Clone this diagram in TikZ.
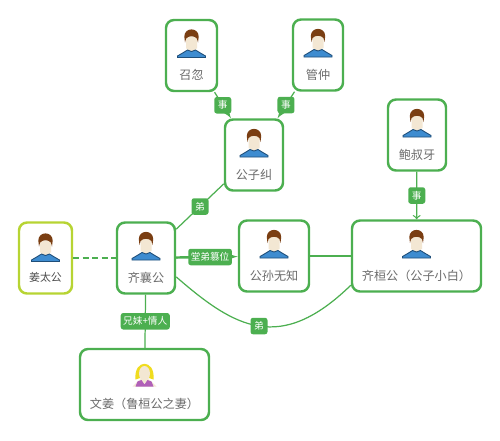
\documentclass[tikz,border=0pt]{standalone}
\usepackage{fontspec}
\newfontfamily\cjk{Noto Sans CJK SC}
\definecolor{mapGreen}{HTML}{4CAF50}
\definecolor{mapLime}{HTML}{B7D433}
\definecolor{nameGray}{HTML}{6B6B6B}
\definecolor{shirtBlue}{HTML}{3E8CD0}
\definecolor{shirtEdge}{HTML}{1F4E79}
\definecolor{hairBrown}{HTML}{7A3E12}
\definecolor{skinTone}{HTML}{F3E7D3}
\definecolor{hairYellow}{HTML}{F0DC1E}
\definecolor{dressPurple}{HTML}{B060B8}
\tikzset{
    manIcon/.pic={
        \fill[skinTone, x=.2mm, y=.2mm] (-5.5,19) rectangle (5.5,7) (0,6) ellipse (4.5 and 4);
        \fill[hairBrown, x=.2mm, y=.2mm] (-6.5,13) -- (-7.2,19) .. controls (-7,28.5) and (7,28.5) .. (7.2,19) -- (6.5,13) -- (5.4,17) .. controls (3,20) and (-3,20) .. (-5.4,17) -- cycle;
        \filldraw[fill=shirtBlue, draw=shirtEdge, line width=.5pt, x=.2mm, y=.2mm] (-14,-2) -- (-14,-.5) -- (-8,3) -- (-4,5.5) -- (0,4) -- (4,5.5) -- (8,3) -- (14,-.5) -- (14,-2) -- cycle;
    },
    womanIcon/.pic={
        \fill[hairYellow, x=.2mm, y=.2mm] (-9,5) .. controls (-11,26) and (11,26) .. (9,5) -- (3,7) -- (-3,7) -- cycle;
        \fill[skinTone, x=.2mm, y=.2mm] (0,11) ellipse (5.5 and 7.5);
        \fill[skinTone, x=.2mm, y=.2mm] (-12,-2) -- (-7,3) -- (-3,6) -- (3,6) -- (7,3) -- (12,-2) -- cycle;
        \fill[dressPurple, x=.2mm, y=.2mm] (-9,-2) -- (-7,3) -- (-3,4.5) -- (0,0) -- (3,4.5) -- (7,3) -- (9,-2) -- cycle;
    }
}
\begin{document}
\begin{tikzpicture}[
        personNode/.style={rectangle, draw=mapGreen, line width=1.4pt, rounded corners=1.6mm, fill=white, inner sep=0pt, minimum height=14.2mm},
        nameLabel/.style={text=nameGray, font=\cjk\fontsize{6.9}{8}\selectfont, yshift=-3.9mm},
        linkLabel/.style={rectangle, fill=mapGreen, rounded corners=.5mm, text=white, font=\cjk\fontsize{5.5}{6}\selectfont, inner xsep=.5mm, inner ysep=0pt, minimum width=3.4mm, minimum height=3.3mm},
        line/.style={draw=mapGreen, line width=.7pt},
        heavyLine/.style={draw=mapGreen, line width=1.4pt}
    ]
        \useasboundingbox (0, 0) rectangle (10, -8.8);

        \node[personNode, minimum width=10.6mm, draw=mapLime, label={[nameLabel, font=\cjk\fontsize{6.2}{8}\selectfont, text=black!70]center:姜太公}] (taigong) at (0.91, -5.16) {};
        \node[personNode, minimum width=11.6mm, label={[nameLabel]center:齐襄公}] (xianggong) at (2.92, -5.16) {};
        \node[personNode, minimum width=25.8mm, label={[nameLabel]center:文姜（鲁桓公之妻）}] (wenjiang) at (2.89, -7.69) {};
        \node[personNode, minimum width=10.2mm, label={[nameLabel]center:召忽}] (zhaohu) at (3.83, -1.11) {};
        \node[personNode, minimum width=10.0mm, label={[nameLabel]center:管仲}] (guanzhong) at (6.36, -1.10) {};
        \node[personNode, minimum width=11.6mm, label={[nameLabel]center:公子纠}] (jiu) at (5.08, -3.10) {};
        \node[personNode, minimum width=11.6mm, label={[nameLabel]center:鲍叔牙}] (baoshuya) at (8.34, -2.70) {};
        \node[personNode, minimum width=14.0mm, label={[nameLabel]center:公孙无知}] (wuzhi) at (5.48, -5.12) {};
        \node[personNode, minimum width=25.8mm, label={[nameLabel]center:齐桓公（公子小白）}] (huangong) at (8.33, -5.12) {};

        \pic at ([yshift=-.3mm]taigong) {manIcon};
        \pic at (xianggong) {manIcon};
        \pic at (wenjiang) {womanIcon};
        \pic at (zhaohu) {manIcon};
        \pic at (guanzhong) {manIcon};
        \pic at (jiu) {manIcon};
        \pic at (baoshuya) {manIcon};
        \pic at (wuzhi) {manIcon};
        \pic at (huangong) {manIcon};

        \draw[heavyLine, dashed, dash pattern=on 1.2mm off .7mm] (taigong) -- (xianggong);
        \draw[line] (xianggong) -- node[linkLabel] {兄妹+情人} (wenjiang);
        \draw[heavyLine, -latex] (xianggong) -- node[linkLabel, pos=.55] {堂弟篡位} (wuzhi);
        \draw[heavyLine] (wuzhi) -- (huangong);
        \draw[line] (xianggong) -- node[linkLabel] {弟} (jiu);
        \draw[line, -latex] (zhaohu) -- node[linkLabel] {事} (jiu);
        \draw[line, -latex] (guanzhong) -- node[linkLabel] {事} (jiu);
        \draw[line, ->] (baoshuya) -- node[linkLabel] {事} (huangong);
        \draw[line] (xianggong.-32) .. controls (4.7, -6.56) and (5.6, -7.08) .. node[linkLabel, pos=.5] {弟} (huangong.204);
    \end{tikzpicture}
\end{document}
